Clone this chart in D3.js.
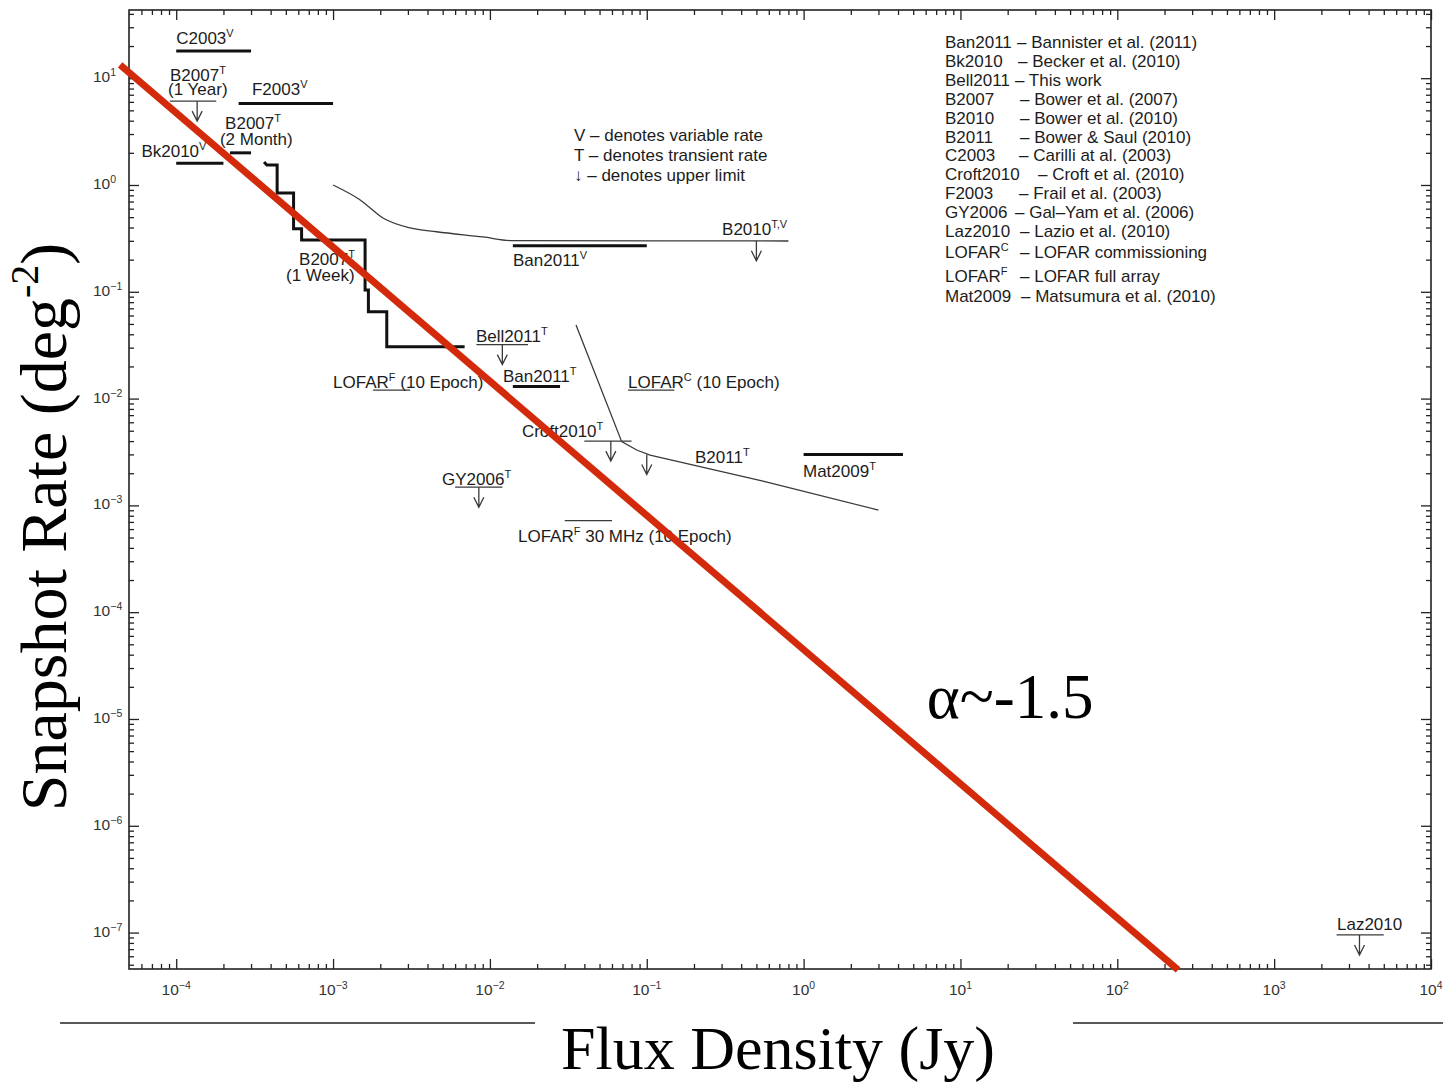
<!DOCTYPE html>
<html><head><meta charset="utf-8">
<script src="https://cdn.jsdelivr.net/npm/d3@7"></script>
<style>body{margin:0;background:#fff} svg{display:block}</style>
</head><body>
<svg id="c" width="1443" height="1085"></svg>
<script>
// ---------------- data ----------------
const xDomain = [5e-5, 1e4];          // Flux density (Jy)
const yDomain = [4.56e-8, 43.5];      // Snapshot rate (deg^-2)
const xTickExps = [-4, -3, -2, -1, 0, 1, 2, 3, 4];
const yTickExps = [1, 0, -1, -2, -3, -4, -5, -6, -7];

// thick measurement bars: [flux0, flux1, rate]
const thickBars = [
  [1.0e-4, 3.0e-4, 18],      // C2003
  [2.5e-4, 1.0e-3, 5.8],     // F2003
  [2.2e-4, 3.0e-4, 2.0],     // B2007 (2 Month)
  [1.0e-4, 2.0e-4, 1.6],     // Bk2010
  [0.014, 0.1, 0.27],        // Ban2011 V
  [0.014, 0.028, 0.013],     // Ban2011 T
  [1.0, 4.3, 3.0e-3]         // Mat2009
];
// thin limit / prediction lines: [flux0, flux1, rate]
const thinLines = [
  [9.1e-5, 1.8e-4, 6.1],     // B2007 (1 Year)
  [8.2e-3, 0.0175, 0.032],   // Bell2011
  [0.04, 0.08, 4.0e-3],      // Croft2010
  [6.0e-3, 0.012, 1.48e-3],  // GY2006
  [2500, 5000, 9.5e-8],      // Laz2010
  [1.8e-3, 3.1e-3, 0.012],   // LOFAR F (10 Epoch)
  [0.076, 0.15, 0.012],      // LOFAR C (10 Epoch)
  [0.03, 0.06, 7.2e-4]       // LOFAR F 30 MHz
];
// upper-limit arrows: [flux, rate]
const upperArrows = [
  [1.36e-4, 6.1], [0.012, 0.032], [0.059, 4.0e-3], [8.5e-3, 1.48e-3],
  [3500, 9.5e-8], [0.5, 0.3], [0.1, 3.0e-3]
];
// B2007 staircase
const stairFlux = [3.63e-4, 3.78e-4, 4.4e-4, 4.4e-4, 5.6e-4, 5.6e-4, 6.3e-4, 6.3e-4, 1.6e-3, 1.6e-3, 1.68e-3, 1.68e-3, 2.2e-3, 2.2e-3, 6.9e-3];
const stairRate = [1.64, 1.54, 1.54, 0.84, 0.84, 0.39, 0.39, 0.305, 0.305, 0.104, 0.104, 0.065, 0.065, 0.0306, 0.0306];
// B2010 curve
const b2010Flux = [1.0e-3, 1.49e-3, 2.08e-3, 3.1e-3, 4.58e-3, 9.04e-3, 0.014, 0.8];
const b2010Rate = [1.0, 0.724, 0.491, 0.396, 0.365, 0.326, 0.301, 0.299];
// LOFAR C / B2011 curve
const b2011Flux = [0.0354, 0.0692, 0.0863, 0.105, 0.551, 3.0];
const b2011Rate = [0.0489, 3.95e-3, 3.3e-3, 2.96e-3, 1.69e-3, 9.05e-4];
// power-law line
const redFlux = [4.39e-5, 244];
const redRate = [13.3, 4.47e-8];

// annotation labels: [text, sup, tail, flux, rate]  (left / baseline anchor)
const labels = [
  ["C2003", "V", "", 1.0e-4, 20.9],
  ["B2007", "T", "", 9.13e-5, 9.4],
  ["(1 Year)", "", "", 8.87e-5, 6.96],
  ["F2003", "V", "", 3.04e-4, 6.96],
  ["B2007", "T", "", 2.05e-4, 3.35],
  ["(2 Month)", "", "", 1.9e-4, 2.37],
  ["Bk2010", "V", "", 6.0e-5, 1.83],
  ["B2007", "T", "", 6.07e-4, 0.178],
  ["(1 Week)", "", "", 5.01e-4, 0.1263],
  ["Ban2011", "V", "", 0.01404, 0.1744],
  ["B2010", "T,V", "", 0.302, 0.34],
  ["Bell2011", "T", "", 8.15e-3, 0.0339],
  ["Ban2011", "T", "", 0.01212, 0.0143],
  ["LOFAR", "C", " (10 Epoch)", 0.076, 0.01257],
  ["LOFAR", "F", " (10 Epoch)", 1.0e-3, 0.01257],
  ["Croft2010", "T", "", 0.016, 4.37e-3],
  ["B2011", "T", "", 0.203, 2.49e-3],
  ["Mat2009", "T", "", 0.991, 1.85e-3],
  ["GY2006", "T", "", 4.95e-3, 1.55e-3],
  ["LOFAR", "F", " 30 MHz (10 Epoch)", 0.0151, 4.54e-4],
  ["Laz2010", "", "", 2516, 1.057e-7]
];
const alphaLabel = ["α~-1.5", 6.1, 1.02e-5];

const keyNotes = ["V – denotes variable rate", "T – denotes transient rate", "↓ – denotes upper limit"];
const legendCodes = ["Ban2011", "Bk2010", "Bell2011", "B2007", "B2010", "B2011", "C2003", "Croft2010", "F2003", "GY2006", "Laz2010", "LOFAR", "LOFAR", "Mat2009"];
const legendSups  = ["", "", "", "", "", "", "", "", "", "", "", "C", "F", ""];
const legendDescs = ["– Bannister et al. (2011)", "– Becker et al. (2010)", "– This work", "– Bower et al. (2007)", "– Bower et al. (2010)", "– Bower & Saul (2010)", "– Carilli at al. (2003)", "– Croft et al. (2010)", "– Frail et al. (2003)", "– Gal–Yam et al. (2006)", "– Lazio et al. (2010)", "– LOFAR commissioning", "– LOFAR full array", "– Matsumura et al. (2010)"];

// ---------------- drawing ----------------
const svg = d3.select("#c");
const L = 129, R = 1431, T = 10, B = 969;
const x = d3.scaleLog().domain(xDomain).range([L, R]);
const y = d3.scaleLog().domain(yDomain).range([B, T]);
const SANS = "'Liberation Sans', Arial, Helvetica, sans-serif";
const SERIF = "'Liberation Serif', 'Times New Roman', Times, serif";
const INK = "#1c1c1c";

svg.append("rect").attr("width", 1443).attr("height", 1085).attr("fill", "#fff");

// minor tick values
function minors(dom) {
  const out = [];
  const e0 = Math.floor(Math.log10(dom[0])), e1 = Math.ceil(Math.log10(dom[1]));
  for (let e = e0; e <= e1; e++) for (let m = 2; m <= 9; m++) {
    const v = m * Math.pow(10, e);
    if (v > dom[0] && v < dom[1]) out.push(v);
  }
  return out;
}
const xMaj = xTickExps.map(e => Math.pow(10, e)).filter(v => v >= xDomain[0] && v <= xDomain[1]);
const yMaj = yTickExps.map(e => Math.pow(10, e));
const xMin = minors(xDomain), yMin = minors(yDomain);

function axis(gen, tr, vals, size) {
  svg.append("g").attr("transform", tr)
    .call(gen.tickValues(vals).tickSize(size).tickSizeOuter(0).tickFormat(""))
    .call(g => g.select(".domain").remove())
    .selectAll("line").attr("stroke", "#222").attr("stroke-width", 1.3);
}
axis(d3.axisBottom(x), `translate(0,${B})`, xMaj, -10);
axis(d3.axisBottom(x), `translate(0,${B})`, xMin, -5);
axis(d3.axisTop(x), `translate(0,${T})`, xMaj, -10);
axis(d3.axisTop(x), `translate(0,${T})`, xMin, -5);
axis(d3.axisLeft(y), `translate(${L},0)`, yMaj, -10);
axis(d3.axisLeft(y), `translate(${L},0)`, yMin, -5);
axis(d3.axisRight(y), `translate(${R},0)`, yMaj, -10);
axis(d3.axisRight(y), `translate(${R},0)`, yMin, -5);

svg.append("rect").attr("x", L).attr("y", T).attr("width", R - L).attr("height", B - T)
  .attr("fill", "none").attr("stroke", "#222").attr("stroke-width", 1.6);

const fmtExp = e => (e < 0 ? "−" + (-e) : "" + e);
// x tick labels
xTickExps.forEach(e => {
  const t = svg.append("text").attr("x", x(Math.pow(10, e))).attr("y", B + 26)
    .attr("text-anchor", "middle").attr("font-family", SANS).attr("font-size", 15.5).attr("fill", "#333");
  t.append("tspan").text("10");
  t.append("tspan").attr("dy", -6).attr("font-size", 10.5).text(fmtExp(e));
});
// y tick labels
yTickExps.forEach(e => {
  const t = svg.append("text").attr("x", L - 36).attr("y", y(Math.pow(10, e)) + 4)
    .attr("font-family", SANS).attr("font-size", 15.5).attr("fill", "#333");
  t.append("tspan").text("10");
  t.append("tspan").attr("dy", -6).attr("font-size", 10.5).text(fmtExp(e));
});

// thin curves
svg.append("path").datum(d3.zip(b2010Flux, b2010Rate))
  .attr("d", d3.line().x(d => x(d[0])).y(d => y(d[1])).curve(d3.curveMonotoneX))
  .attr("fill", "none").attr("stroke", "#3a3a3a").attr("stroke-width", 1.3);
svg.append("path").datum(d3.zip(b2011Flux, b2011Rate))
  .attr("d", d3.line().x(d => x(d[0])).y(d => y(d[1])))
  .attr("fill", "none").attr("stroke", "#3a3a3a").attr("stroke-width", 1.3);

// thin horizontal lines
svg.append("g").selectAll("line").data(thinLines).join("line")
  .attr("x1", d => x(d[0])).attr("x2", d => x(d[1]))
  .attr("y1", d => y(d[2])).attr("y2", d => y(d[2]))
  .attr("stroke", "#3a3a3a").attr("stroke-width", 1.3);

// upper limit arrows
const ag = svg.append("g").attr("fill", "none").attr("stroke", "#3a3a3a").attr("stroke-width", 1.3);
upperArrows.forEach(d => {
  const px = x(d[0]), py = y(d[1]);
  ag.append("path").attr("d", `M${px},${py}V${py + 20}M${px - 5},${py + 10}L${px},${py + 20}L${px + 5},${py + 10}`);
});

// thick bars
svg.append("g").selectAll("line").data(thickBars).join("line")
  .attr("x1", d => x(d[0])).attr("x2", d => x(d[1]))
  .attr("y1", d => y(d[2])).attr("y2", d => y(d[2]))
  .attr("stroke", "#111").attr("stroke-width", 3);

// staircase
svg.append("path").datum(d3.zip(stairFlux, stairRate))
  .attr("d", d3.line().x(d => x(d[0])).y(d => y(d[1])))
  .attr("fill", "none").attr("stroke", "#111").attr("stroke-width", 3).attr("stroke-linejoin", "miter");

// labels
labels.forEach(d => {
  const t = svg.append("text").attr("x", x(d[3])).attr("y", y(d[4]))
    .attr("font-family", SANS).attr("font-size", 17).attr("fill", INK);
  t.append("tspan").text(d[0]);
  if (d[1]) t.append("tspan").attr("dy", -7).attr("font-size", 11).text(d[1]);
  if (d[2]) t.append("tspan").attr("dy", 7).text(d[2]);
});

// key notes
keyNotes.forEach((s, i) => {
  svg.append("text").attr("x", 574).attr("y", 141 + 20 * i)
    .attr("font-family", SANS).attr("font-size", 17).attr("fill", INK).text(s);
});

// legend
const descX = [1017, 1018, 1015, 1020, 1020, 1020, 1019, 1038, 1019, 1015, 1020, 1020, 1020, 1021];
const rowY = i => (i <= 10 ? 48 + 18.9 * i : [258, 282, 302][i - 11]);
legendCodes.forEach((c, i) => {
  const t = svg.append("text").attr("x", 945).attr("y", rowY(i))
    .attr("font-family", SANS).attr("font-size", 17).attr("fill", INK);
  t.append("tspan").text(c);
  if (legendSups[i]) t.append("tspan").attr("dy", -7).attr("font-size", 11).text(legendSups[i]);
  svg.append("text").attr("x", descX[i]).attr("y", rowY(i))
    .attr("font-family", SANS).attr("font-size", 17).attr("fill", INK).text(legendDescs[i]);
});

// red power-law line
svg.append("path").datum(d3.zip(redFlux, redRate))
  .attr("d", d3.line().x(d => x(d[0])).y(d => y(d[1])))
  .attr("stroke", "#d42a0c").attr("stroke-width", 7).attr("fill", "none");

svg.append("text").attr("x", x(alphaLabel[1])).attr("y", y(alphaLabel[2]))
  .attr("font-family", SERIF).attr("font-size", 63).attr("fill", "#000").text(alphaLabel[0]);

// axis titles
const yt = svg.append("text").attr("transform", "translate(66,527) rotate(-90)")
  .attr("text-anchor", "middle").attr("font-family", SERIF).attr("font-size", 66).attr("fill", "#000");
yt.append("tspan").text("Snapshot Rate (deg");
yt.append("tspan").attr("dy", -28).attr("font-size", 40).text("-2");
yt.append("tspan").attr("dy", 28).text(")");

svg.append("text").attr("x", 778).attr("y", 1069).attr("text-anchor", "middle")
  .attr("font-family", SERIF).attr("font-size", 62).attr("fill", "#000").text("Flux Density (Jy)");
svg.append("line").attr("x1", 60).attr("x2", 535).attr("y1", 1023).attr("y2", 1023).attr("stroke", "#222").attr("stroke-width", 1.5);
svg.append("line").attr("x1", 1073).attr("x2", 1443).attr("y1", 1023).attr("y2", 1023).attr("stroke", "#222").attr("stroke-width", 1.5);
</script>
</body></html>
